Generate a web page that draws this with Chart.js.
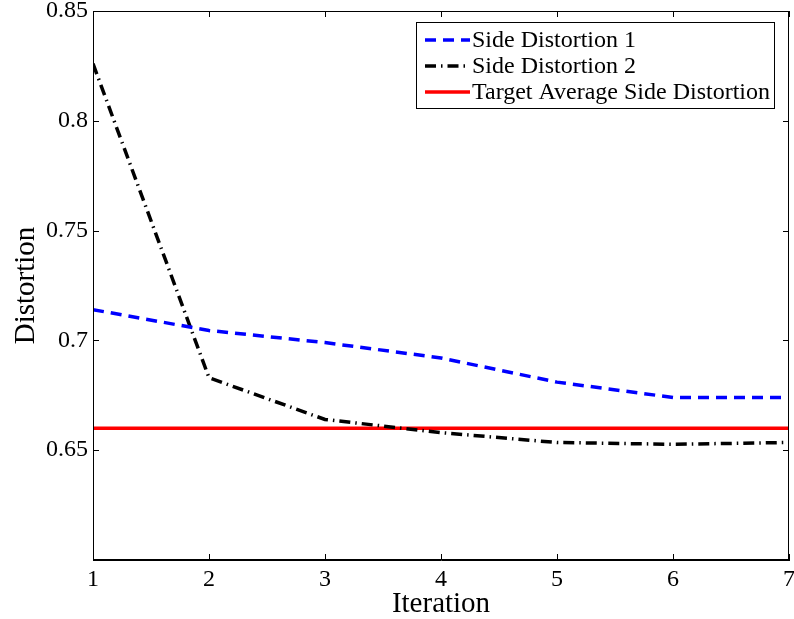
<!DOCTYPE html>
<html>
<head>
<meta charset="utf-8">
<script src="https://cdn.jsdelivr.net/npm/chart.js@4.4.1/dist/chart.umd.min.js"></script>
<style>
html,body{margin:0;padding:0;background:#fff;}
#wrap{width:794px;height:619px;position:relative;}
</style>
</head>
<body>
<div id="wrap"><canvas id="c" width="794" height="619"></canvas></div>
<script>
const iterations = [1, 2, 3, 4, 5, 6, 7];
const side1 = [0.714, 0.7045, 0.699, 0.692, 0.681, 0.674, 0.674];
const side2 = [0.826, 0.683, 0.664, 0.658, 0.6535, 0.6527, 0.6535];
const targetAvg = [0.66, 0.66, 0.66, 0.66, 0.66, 0.66, 0.66];
const xTickLabels = ['1', '2', '3', '4', '5', '6', '7'];
const yTickLabels = ['0.65', '0.7', '0.75', '0.8', '0.85'];
const seriesNames = ['Side Distortion 1', 'Side Distortion 2', 'Target Average Side Distortion'];

const FONT = '"Liberation Serif", "Times New Roman", serif';

const toXY = arr => arr.map((v, i) => ({x: iterations[i], y: v}));

const boxTicks = {
  id: 'boxTicks',
  afterDraw(chart) {
    const {ctx, chartArea: a, scales} = chart;
    ctx.save();
    ctx.strokeStyle = '#000';
    ctx.lineWidth = 1;
    ctx.strokeRect(a.left + 0.5, a.top + 0.5, a.right - a.left - 1, a.bottom - a.top - 1);
    const L = 6;
    ctx.beginPath();
    xTickLabels.forEach(t => {
      const px = Math.round(scales.x.getPixelForValue(Number(t))) + 0.5;
      ctx.moveTo(px, a.bottom); ctx.lineTo(px, a.bottom - L);
      ctx.moveTo(px, a.top); ctx.lineTo(px, a.top + L);
    });
    [0.6].concat(yTickLabels.map(Number)).forEach(v => {
      const py = Math.round(scales.y.getPixelForValue(v)) + 0.5;
      ctx.moveTo(a.left, py); ctx.lineTo(a.left + L, py);
      ctx.moveTo(a.right, py); ctx.lineTo(a.right - L, py);
    });
    ctx.stroke();

    // legend
    const lx = 416, ly = 22, lw = 358, lh = 86;
    ctx.fillStyle = '#fff';
    ctx.fillRect(lx, ly, lw, lh);
    ctx.strokeRect(lx + 0.5, ly + 0.5, lw, lh);
    chart.data.datasets.forEach((ds, i) => {
      const y = ly + 18 + i * 26;
      ctx.beginPath();
      ctx.strokeStyle = ds.borderColor;
      ctx.lineWidth = ds.borderWidth;
      ctx.setLineDash(ds.borderDash || []);
      ctx.moveTo(lx + 9, y); ctx.lineTo(lx + 54, y);
      ctx.stroke();
      ctx.setLineDash([]);
      ctx.fillStyle = '#000';
      ctx.font = '24px ' + FONT;
      ctx.textBaseline = 'middle';
      ctx.textAlign = 'left';
      ctx.fillText(ds.label, lx + 56, y + 1);
    });
    ctx.restore();
  }
};

new Chart(document.getElementById('c'), {
  type: 'line',
  data: {
    datasets: [
      {label: seriesNames[0], data: toXY(side1), borderColor: '#0000ff', borderWidth: 3.5, borderDash: [11, 7], pointRadius: 0, tension: 0, fill: false},
      {label: seriesNames[1], data: toXY(side2), borderColor: '#000000', borderWidth: 3.5, borderDash: [11, 5, 1.5, 5], pointRadius: 0, tension: 0, fill: false},
      {label: seriesNames[2], data: toXY(targetAvg), borderColor: '#ff0000', borderWidth: 3.5, pointRadius: 0, tension: 0, fill: false}
    ]
  },
  options: {
    responsive: false,
    animation: false,
    layout: {padding: {top: 11, right: 5, left: 0, bottom: 0}},
    plugins: {legend: {display: false}, tooltip: {enabled: false}},
    scales: {
      x: {
        type: 'linear', min: 1, max: 7,
        afterBuildTicks(s) { s.ticks = xTickLabels.map(t => ({value: Number(t)})); },
        ticks: {color: '#000', font: {family: FONT, size: 24}, padding: 5, maxRotation: 0, callback: v => String(v)},
        grid: {display: false, drawTicks: false},
        border: {display: true, color: '#000'},
        title: {display: true, text: 'Iteration', color: '#000', font: {family: FONT, size: 29}, padding: {top: 0, bottom: -3}},
        afterFit(s) { s.height = 59; s.paddingLeft = 0; s.paddingRight = 0; }
      },
      y: {
        type: 'linear', min: 0.6, max: 0.85,
        afterBuildTicks(s) { s.ticks = [0.6].concat(yTickLabels.map(Number)).map(v => ({value: v})); },
        ticks: {color: '#000', font: {family: FONT, size: 24}, padding: 5,
          callback: v => { const i = yTickLabels.indexOf(String(Math.round(v * 100) / 100)); return i >= 0 ? yTickLabels[i] : ''; }},
        grid: {display: false, drawTicks: false},
        border: {display: true, color: '#000'},
        title: {display: true, text: 'Distortion', color: '#000', font: {family: FONT, size: 29}, padding: {top: 9, bottom: 0}},
        afterFit(s) { s.width = 93; s.paddingTop = 0; s.paddingBottom = 0; }
      }
    }
  },
  plugins: [boxTicks]
});
</script>
</body>
</html>
